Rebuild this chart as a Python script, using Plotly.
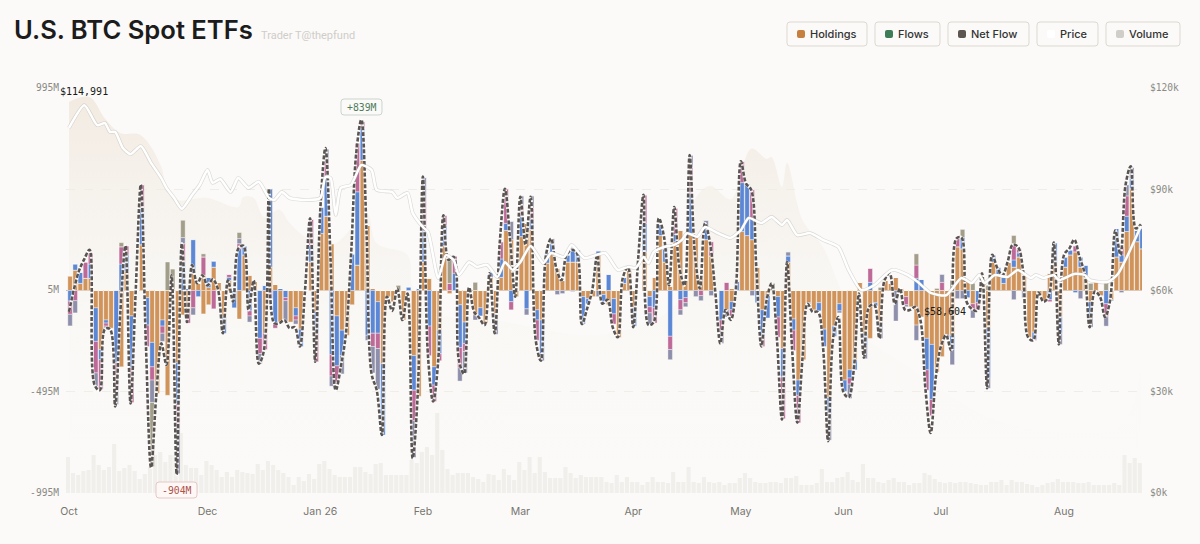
import plotly.graph_objects as go

# flows per session, $M
holdings = [
    72,100,35,60,60,-85,-290,-145,-185,0,
    -375,95,-125,0,225,-35,-255,-505,-145,-515,
    5,-355,-120,-105,85,35,-115,-70,115,40,
    -130,50,0,-140,175,75,45,0,-210,115,
    30,-160,0,-155,-85,-190,0,140,-105,280,
    365,230,-125,-195,-220,-70,125,640,320,10,
    -55,-360,-30,-55,0,-145,0,-320,-520,140,
    60,-375,-195,220,-15,0,-70,-155,5,-120,
    -85,-160,65,-115,65,295,250,-30,265,330,
    300,-95,-145,135,180,110,50,140,140,140,
    -30,-40,-30,175,-20,-70,-40,-230,35,100,
    -85,0,190,-30,65,270,140,20,240,295,
    50,280,265,60,250,170,0,0,-95,-55,
    0,290,270,250,115,-95,-25,0,-30,-285,
    140,-140,-440,-340,-60,-95,-60,-190,-525,-175,
    -65,-440,-390,-340,40,-210,-235,-60,-155,50,
    35,65,10,-30,-80,-170,-130,-235,-265,-400,
    -325,-220,-220,215,205,50,-65,0,50,-185,
    140,75,35,140,115,165,85,-230,-205,-30,
    -50,85,135,-130,115,175,190,115,75,-55,
    45,-25,0,-45,165,140,290,500,240,205,
]
holdings_extra = {26: 75, 27: 15, 129: 10}
blue_vals = [
    -52,30,55,0,70,-165,-50,-15,0,-355,
    130,80,-255,0,180,-135,-120,0,-30,0,
    0,-200,140,10,165,-30,0,50,30,0,
    -80,15,-85,205,45,-100,0,-235,25,385,
    -160,10,-35,0,-40,-85,0,80,-105,130,
    200,-315,-245,-125,0,180,360,155,-220,-210,
    -155,-350,0,0,0,0,18,-170,10,155,
    -175,-90,-115,100,0,85,-210,-105,0,0,
    -40,0,25,0,90,35,-55,0,100,-90,
    50,-50,-165,50,50,0,0,35,60,60,
    -135,-25,0,20,-45,80,-75,0,30,0,
    -90,0,140,-50,-85,55,65,-225,35,-45,
    -35,195,0,0,55,0,0,-145,0,-40,
    45,240,255,105,-60,-130,-110,0,-100,-140,
    30,-55,-75,0,0,0,-40,-85,-80,-50,
    -35,-55,-40,-50,0,-60,40,-15,0,0,
    0,0,0,0,0,60,55,-155,-270,0,
    0,-10,-70,0,55,-35,0,-60,0,-245,
    35,40,30,0,35,20,0,0,-35,0,
    0,-45,100,-80,50,25,-10,50,50,-75,
    0,0,-65,-5,140,35,75,50,55,100,
]
pink_vals = [
    -65,-50,0,80,55,-155,-145,-15,0,-130,
    85,45,-170,0,115,-105,-65,0,-35,0,
    0,-105,90,-55,-85,0,90,0,-90,0,
    0,15,0,25,0,-25,0,-75,-80,-40,
    -25,0,-15,0,-20,0,0,130,-140,0,
    65,-105,-80,0,0,0,240,35,0,-65,
    -75,0,0,0,0,0,0,-150,0,145,
    -145,-80,-35,50,35,85,-100,-40,0,0,
    0,0,0,0,85,170,-40,0,50,0,
    55,-100,0,0,0,0,0,0,0,0,
    0,0,0,0,0,0,-50,0,0,0,
    0,0,140,-30,-75,0,0,-65,130,-50,
    -25,130,0,-25,0,70,0,-50,40,-30,
    0,105,0,140,0,-50,0,0,-100,-205,
    0,-100,-135,0,0,0,0,0,0,0,
    0,0,-30,0,0,0,70,0,0,0,
    0,0,0,-40,0,65,0,-100,-80,0,
    40,0,0,40,0,0,-30,-35,0,0,
    0,0,0,0,75,20,0,0,-5,0,
    0,-10,0,0,0,0,30,0,0,0,
    0,0,-65,0,0,40,100,0,0,0,
]
tan_vals = {10:20,16:-315,19:140,20:100,22:85,26:15,33:30,64:25,74:120,79:40,137:35,158:15,
            165:55,169:10,172:50,174:40,176:35,179:25,184:45,199:35,202:45}
slate_vals = {0:-57,1:-60,5:-65,7:-15,9:-75,16:-110,18:-40,21:-240,22:30,24:-35,33:25,35:-30,37:-50,
              42:-100,44:-20,50:65,51:-50,53:-90,58:-25,59:-130,60:-200,67:-180,69:115,76:-65,77:-105,
              79:-25,83:-100,86:90,88:50,89:-30,90:60,92:-35,94:25,95:-20,96:-15,98:-5,103:-30,113:-55,
              117:-50,119:-25,120:-20,121:60,122:-30,123:-25,124:40,125:-25,127:-65,128:-35,133:-25,
              140:20,144:-5,148:-130,150:-10,152:-70,155:-65,158:-80,161:-150,163:-10,165:-75,170:40,
              172:-75,173:-40,174:-40,176:-40,179:-50,184:-45,186:-35,193:-55,197:-40,199:-50,202:-45,
              205:-10,206:55,207:55}
net_flow = [
    -105,10,100,155,200,-465,-490,-190,-190,-570,
    -110,220,-555,-5,520,-270,-870,-520,-260,-365,
    75,-904,230,-155,125,35,75,25,55,10,
    -210,50,-55,205,220,-95,50,-360,-295,500,
    -160,-160,-145,-185,-180,-275,-5,355,-350,400,
    700,150,-490,-375,-210,180,675,839,295,-410,
    -490,-710,-30,-100,10,-145,-15,-825,-500,560,
    -325,-545,-340,370,150,165,-340,-410,15,-105,
    -135,-170,85,-210,240,500,250,-30,460,225,
    460,-245,-345,175,255,110,50,175,200,185,
    -165,-90,0,175,-65,-45,-180,-230,65,115,
    -180,165,470,-170,-155,355,265,25,410,115,
    25,665,190,10,330,230,-5,-260,-95,-145,
    0,635,525,495,115,-275,-50,35,-230,-635,
    140,-295,-650,-335,-65,-105,-105,-275,-740,-230,
    -130,-500,-525,-390,-15,-330,-80,-70,-235,50,
    85,-65,10,-95,-95,-80,-145,-490,-700,-425,
    -275,-220,-295,255,260,-55,-90,-100,85,-480,
    175,110,75,140,225,215,100,-230,-245,-10,
    -55,-30,235,-265,175,205,250,165,85,-180,
    -5,-30,-130,-45,295,175,520,610,305,325,
]
volume = [
    36,20,18,22,23,38,28,23,26,49,
    22,25,28,22,14,19,26,38,41,31,
    38,38,60,28,25,25,18,32,28,23,
    16,21,16,23,21,20,19,29,23,32,
    28,23,20,16,8,16,12,19,14,29,
    32,24,18,16,16,16,26,26,21,19,
    29,30,18,18,18,18,18,33,30,41,
    46,38,80,43,24,18,20,20,20,16,
    14,11,19,18,13,24,18,13,31,23,
    36,20,36,21,15,15,15,26,20,15,
    18,16,16,16,16,11,10,18,11,16,
    11,11,8,11,16,11,11,10,21,11,
    11,26,11,10,16,11,10,11,8,10,
    10,15,20,15,11,10,10,11,11,10,
    15,15,17,8,8,8,10,24,11,11,
    15,16,21,13,11,29,15,15,11,10,
    13,15,11,11,8,10,10,20,18,14,
    11,10,11,10,11,11,10,9,8,8,
    11,11,13,8,13,11,11,9,8,6,
    8,10,11,14,11,11,11,10,10,11,
    8,8,8,8,10,8,38,30,35,30,
]

price_x = [0,3,5.5,7,8,9,10.5,12,14,16,18,19,20.5,22,24,25.5,27,28,29.5,31.5,33,35,37,39,40,41.5,43,46.5,49,50,
           51,52,53,55,57,59,60,63,64,66,67,69,70,72,73.5,75,76,78,79.5,81.5,83.5,85,86.5,88,90,92.5,94,96.5,98,
           100.5,104.5,107,109,110.5,112,113,114,116,118,119.5,120.5,122.5,124,126.5,129,131,132.5,135,137,139,140,
           142,144.5,147,150,152,154.5,157,160.5,163.5,165.5,168,171,174,176,177.5,178.5,180.5,183,185,187.5,188.5,
           190,192,193,196,198,199,202.5,204.5,209]
price_k = [108.2,114.9,109.0,109.6,107.0,107.0,102.2,100.4,102.8,97.8,93.3,90.4,87.4,84.2,88.3,91.3,95.7,91.9,93.0,89.2,
           93.3,90.4,92.2,87.4,86.8,89.2,87.4,86.8,87.4,93.6,93.3,82.4,90.4,91.3,97.2,95.7,89.8,89.2,87.4,88.9,83.0,78.8,
           77.3,63.7,70.5,69.0,64.6,68.4,67.0,67.6,64.0,68.4,66.1,68.4,73.2,68.1,71.1,69.9,73.5,69.6,71.1,66.1,67.0,66.7,
           69.9,68.1,71.4,72.9,73.5,75.0,77.0,75.9,78.8,77.0,75.6,77.9,81.5,80.0,81.8,79.4,80.9,76.4,77.0,75.0,72.9,66.1,
           60.1,61.6,66.1,64.6,62.5,59.3,58.6,63.7,62.2,64.6,62.2,64.6,64.0,66.1,63.7,64.6,63.7,64.6,63.1,64.9,64.6,63.1,
           62.5,64.9,79.1]
area_x = [0,4,7,10,14,18,19,21,27,33,34,36,38,41,43,47,52,58,60,66,67,70,84,104,119,122,125,129,133,136,137,139,140,
          143,147,150,154,162,181,196,205,209]
area_k = [115.9,117.3,111,106.7,106,96.6,89.8,86.8,87.4,84.7,87.7,87.4,81.8,83.9,80,75,74,83,74,70.5,61,54,51,47,57,
          86.8,91,87,102,99,99.5,90.7,97.8,80.9,72.9,62,48,39,21.6,17.8,20,36.4]

tick_idx = [0,27,49,69,88,110,131,151,170,194]
tick_labels = ["Oct","Dec","Jan 26","Feb","Mar","Apr","May","Jun","Jul","Aug"]
flow_ticks = [995,505,5,-495,-995]
flow_labels = ["995M","","5M","-495M","-995M"]
price_ticks = [0,30,60,90,120]
price_labels = ["$0k","$30k","$60k","$90k","$120k"]

legend_items = [("Holdings",787,867,"#C77F40"),("Flows",875,940,"#3F7D58"),("Net Flow",948,1029,"#5D5550"),
                ("Price",1037,1098,"#FFFFFF"),("Volume",1106,1180,"#CFCEC8")]

W, H = 1200, 544
L, R, T, B = 66, 1142, 88, 493
BG = "#FBFAF8"
MONO = "DejaVu Sans Mono"
SANS = "Inter"

def px(x):
    return (x - L) / (R - L)

def py(y):
    return (B - y) / (B - T)

def rounded(x0, y0, x1, y1, r=3):
    a, b, c, d = px(x0), py(y0), px(x1), py(y1)
    rx, ry = r / (R - L), r / (B - T)
    return (f"M{a+rx},{b} L{c-rx},{b} Q{c},{b} {c},{b-ry} L{c},{d+ry} Q{c},{d} {c-rx},{d} "
            f"L{a+rx},{d} Q{a},{d} {a},{d+ry} L{a},{b-ry} Q{a},{b} {a+rx},{b} Z")

def label(x_pos, y_pos, text, font, anchor="left"):
    return dict(x=px(x_pos), y=py(y_pos), xref="paper", yref="paper", text=text, xanchor=anchor, yanchor="middle",
                showarrow=False, font=font)

x = list(range(len(net_flow)))
fig = go.Figure()

# main subplot sits at the back, so the shaded area and the price scale live there
fig.add_trace(go.Scatter(x=area_x, y=area_k, yaxis="y", mode="lines", line=dict(width=0, shape="spline"),
                         fill="tozeroy",
                         fillgradient=dict(type="vertical", start=120, stop=0,
                                           colorscale=[[0, "rgba(240,230,218,0.8)"], [0.35, "rgba(243,238,231,0.5)"],
                                                       [0.6, "rgba(246,243,238,0.22)"], [0.9, "rgba(248,246,242,0.08)"],
                                                       [1, "rgba(251,250,248,0)"]]),
                         hoverinfo="skip"))
fig.add_trace(go.Bar(x=x, y=volume, yaxis="y2", width=0.8, marker=dict(color="rgba(226,224,218,0.42)", line_width=0)))

series = [
    (holdings, "#D0935A"),
    ([holdings_extra.get(i, 0) for i in x], "#D0935A"),
    (blue_vals, "#5B87D5"),
    (pink_vals, "#BE6A98"),
    ([slate_vals.get(i, 0) for i in x], "#8E8FAA"),
    ([tan_vals.get(i, 0) for i in x], "#A39E8A"),
]
for vals, col in series:
    fig.add_trace(go.Bar(x=x, y=vals, yaxis="y3", width=0.88, offsetgroup="flows",
                         marker=dict(color=col, line=dict(color="rgba(255,255,255,0.75)", width=0.5))))

fig.add_trace(go.Scatter(x=x, y=net_flow, yaxis="y3", mode="lines",
                         line=dict(color="rgba(255,255,255,0.85)", width=3.2, shape="spline", smoothing=1)))
fig.add_trace(go.Scatter(x=x, y=net_flow, yaxis="y3", mode="lines",
                         line=dict(color="#5A5552", width=2.6, shape="spline", smoothing=1, dash="4px,1.8px")))
fig.add_trace(go.Scatter(x=price_x, y=price_k, yaxis="y4", mode="lines",
                         line=dict(color="rgba(170,170,165,0.4)", width=3.8, shape="spline", smoothing=0.6)))
fig.add_trace(go.Scatter(x=price_x, y=price_k, yaxis="y4", mode="lines",
                         line=dict(color="#FFFFFF", width=2.5, shape="spline", smoothing=0.6)))

shapes = []
mono_dark = dict(family=MONO, size=10, color="#1A1A1A", weight=500)
annotations = [
    label(12, 30, "U.S. BTC Spot ETFs", dict(family=SANS, size=25.6, color="#1c1c1c", weight=600)),
    label(259, 35, "Trader T@thepfund", dict(family="Roboto", size=11, color="#CFCDC8")),
    label(58, 92, "$114,991", mono_dark),
    label(922, 311, "$58,604", mono_dark),
    label(361.5, 107, "+839M", dict(family=MONO, size=9.8, color="#4F7D5C"), "center"),
    label(176.5, 490, "-904M", dict(family=MONO, size=9.8, color="#B0524A"), "center"),
]
shapes.append(dict(type="path", xref="paper", yref="paper", path=rounded(341, 99, 382, 115),
                   fillcolor="#FBFAF8", line=dict(color="#C9D5CB", width=1)))
shapes.append(dict(type="path", xref="paper", yref="paper", path=rounded(156, 482, 197, 498),
                   fillcolor="#FDF8F6", line=dict(color="#E5C8C4", width=1)))

for name, x0, x1, col in legend_items:
    shapes.append(dict(type="path", xref="paper", yref="paper", path=rounded(x0, 22, x1, 46),
                       fillcolor="#FBFAF8", line=dict(color="#DCD9D2", width=1)))
    shapes.append(dict(type="path", xref="paper", yref="paper", path=rounded(x0 + 10, 30, x0 + 18, 38, 2),
                       fillcolor=col, line=dict(width=0)))
    annotations.append(label(x0 + 21, 34, name, dict(family=SANS, size=11, color="#333333", weight=500)))

tick_font = dict(family=MONO, size=9.6, color="#8A8A85")
fig.update_layout(
    width=W, height=H, autosize=False, margin=dict(l=L, r=W - R, t=T, b=H - B),
    paper_bgcolor=BG, plot_bgcolor=BG, barmode="relative", bargap=0.16, showlegend=False,
    xaxis=dict(range=[-0.585, 209.2], tickmode="array", tickvals=tick_idx, ticktext=tick_labels, showgrid=False,
               zeroline=False, showline=False, ticks="", ticklabelstandoff=10,
               tickfont=dict(family=SANS, size=10.5, color="#77756F")),
    yaxis=dict(range=[0, 120], side="right", tickmode="array", tickvals=price_ticks, ticktext=price_labels,
               ticklabelstandoff=7, tickfont=tick_font, showgrid=True, gridcolor="#EFEDE9", griddash="dash",
               gridwidth=0.7, zeroline=False),
    yaxis2=dict(range=[0, 405], overlaying="y", visible=False),
    yaxis3=dict(range=[-995, 995], overlaying="y", side="left", tickmode="array", tickvals=flow_ticks,
                ticktext=flow_labels, ticklabelstandoff=6, tickfont=tick_font, showgrid=False, zeroline=True,
                zerolinecolor="#BDBBB5", zerolinewidth=1),
    yaxis4=dict(range=[0, 120], overlaying="y", visible=False),
    shapes=shapes, annotations=annotations,
)

fig.write_html("out.html", config=dict(displayModeBar=False),
               post_script="document.body.style.margin='0';document.body.style.background='#FBFAF8';")
